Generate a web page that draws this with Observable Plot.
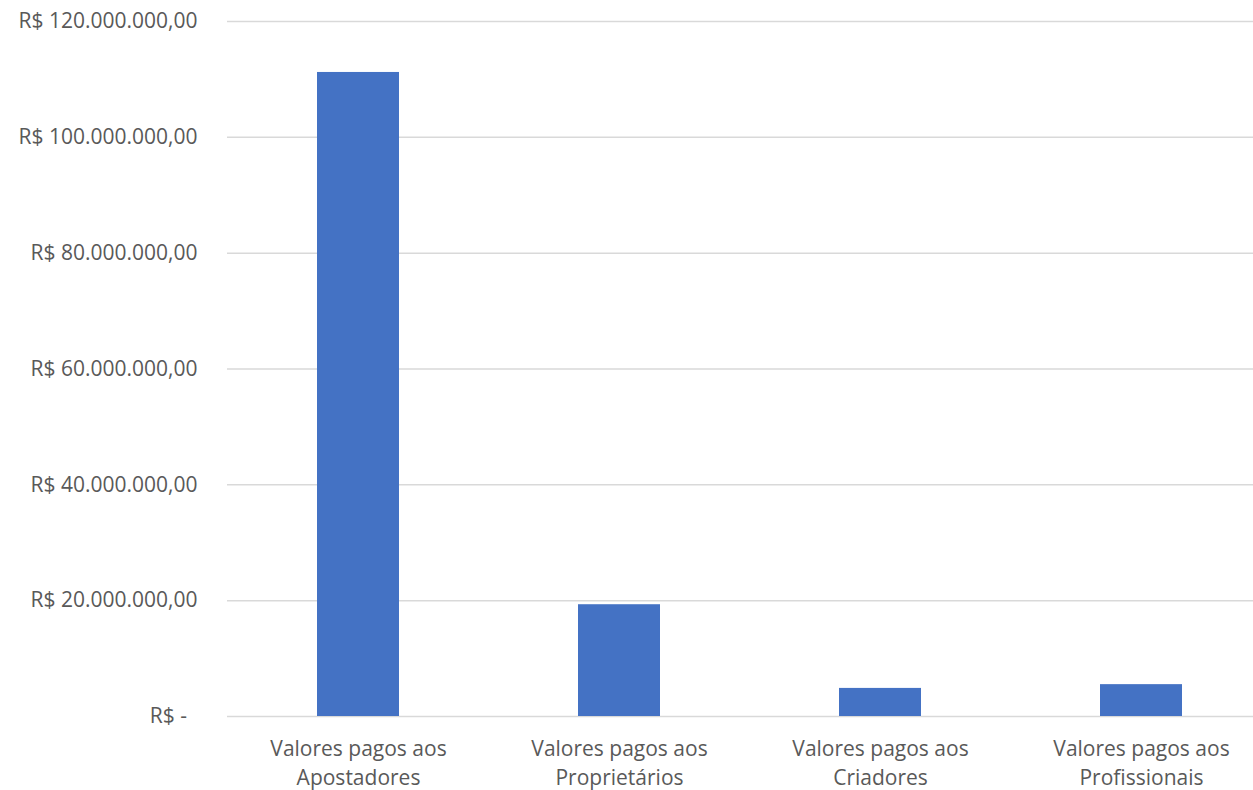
<!DOCTYPE html>
<html><head><meta charset="utf-8">
<script src="https://cdn.jsdelivr.net/npm/d3@7"></script>
<script src="https://cdn.jsdelivr.net/npm/@observablehq/plot@0.6"></script>
<style>
html,body{margin:0;padding:0;background:#fff;overflow:hidden;}
#chart svg{overflow:hidden;display:block;}
</style>
</head><body><div id="chart"></div>
<script>
const categories = ["Valores pagos aos\nApostadores", "Valores pagos aos\nProprietários", "Valores pagos aos\nCriadores", "Valores pagos aos\nProfissionais"];
const values = [111200000, 19300000, 4850000, 5500000];
const yTicks = [0, 20000000, 40000000, 60000000, 80000000, 100000000, 120000000];

const data = categories.map((c, i) => ({category: c, value: values[i]}));
const fmt = v => v === 0 ? "R$ -\u2002" : "R$ " + d3.format(",.2f")(v).replace(/,/g, "#").replace(/\./g, ",").replace(/#/g, ".");

const chart = Plot.plot({
  width: 1253,
  height: 790,
  marginTop: 21,
  marginBottom: 74,
  marginLeft: 227,
  marginRight: 0,
  style: {fontFamily: "'Open Sans', sans-serif", fontSize: "21px", color: "#595959", background: "#fff"},
  x: {domain: categories, range: [227, 1271], paddingInner: 0.686, paddingOuter: 0.343, label: null},
  y: {domain: [0, 120000000], ticks: yTicks, label: null},
  marks: [
    Plot.ruleY(yTicks, {stroke: "#d9d9d9", strokeWidth: 1.5}),
    Plot.barY(data, {x: "category", y: "value", fill: "#4472c4"}),
    Plot.axisY({ticks: yTicks, tickFormat: fmt, tickSize: 0, tickPadding: 30, fill: "#595959", fontSize: 21, label: null}),
    Plot.axisX({tickSize: 0, tickPadding: 19, fill: "#595959", fontSize: 21, label: null, lineHeight: 1.38})
  ]
});
document.getElementById("chart").appendChild(chart);
</script>
</body></html>
